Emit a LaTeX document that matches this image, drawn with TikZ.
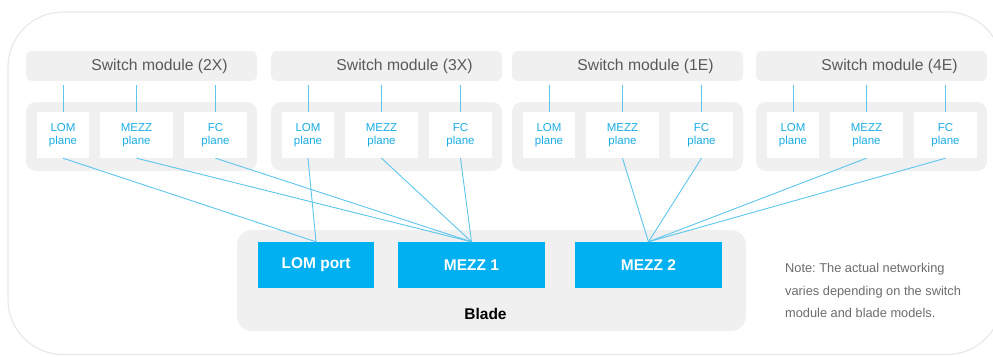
\documentclass[tikz,border=0pt]{standalone}
\usepackage{fontspec}
\setmainfont{Liberation Sans}
\usetikzlibrary{arrows,shapes}
\frenchspacing
\definecolor{panel}{HTML}{F0F0F0}
\definecolor{hwblue}{HTML}{00B0F0}
\definecolor{planeblue}{HTML}{1AAEE6}
\definecolor{wire}{HTML}{5CC6EE}
\definecolor{framegray}{HTML}{E8E8E8}
\definecolor{headgray}{HTML}{595959}
\definecolor{notegray}{HTML}{6B6B6B}
\tikzstyle{header}=[fill=panel,rounded corners=6pt,minimum width=231pt,minimum height=30pt,inner sep=0pt]
\tikzstyle{headtext}=[text=headgray,font=\fontsize{15.7}{18}\selectfont,inner sep=0pt]
\tikzstyle{tray}=[fill=panel,rounded corners=10pt,minimum width=231pt,minimum height=69pt,inner sep=0pt]
\tikzstyle{plane}=[fill=white,minimum height=46pt,inner sep=0pt,align=center,text=planeblue,font=\fontsize{11.5}{13}\selectfont]
\tikzstyle{port}=[fill=hwblue,minimum height=46pt,inner sep=0pt,text=white,font=\fontsize{15.5}{18}\selectfont\bfseries]
\tikzstyle{edge} = [draw=wire,line width=0.9pt,-]

\begin{document}
\begin{tikzpicture}[x=1pt,y=-1pt]
    \clip (0,0) rectangle (993,356);
    % Outer frame
    \draw[framegray,line width=1.2pt,rounded corners=55pt] (8,12) rectangle (1002,354.5);

    % First we draw the switch modules and their planes
    \foreach \x/\name/\tag in {26/a/2X, 271/b/3X, 512/c/1E, 756/d/4E}{
        \node[header] (sw\name) at (\x+115.5,66) {};
        \node[headtext] (swt\name) at ([xshift=18pt]sw\name.center) {Switch module (\tag)};
        \node[tray] (tray\name) at (\x+115.5,136.5) {};
        \node[plane,minimum width=52pt] (lom\name) at (\x+37,135) {LOM\\plane};
        \node[plane,minimum width=73pt] (mezz\name) at (\x+110.5,135) {MEZZ\\plane};
        \node[plane,minimum width=63pt] (fc\name) at (\x+189.5,135) {FC\\plane};
        \foreach \p in {lom,mezz,fc}
            \path[edge,shorten <=4pt] (\p\name.north |- sw\name.south) -- (\p\name.north);
    }

    % Then the blade with its ports
    \node[fill=panel,rounded corners=15pt,minimum width=509pt,minimum height=101pt,inner sep=0pt] (blade) at (491.5,280.5) {};
    \node[font=\fontsize{15.5}{18}\selectfont\bfseries,inner sep=0pt] (bladetext) at (485.5,314) {Blade};
    \foreach \pos/\name/\w/\txt in {{(316,265)/lomport/116pt/LOM port}, {(471.5,265)/mezzone/147pt/MEZZ 1}, {(648.5,265)/mezztwo/147pt/MEZZ 2}}
        \node[port,minimum width=\w] (\name) at \pos {\txt};

    % Connect planes with ports
    \foreach \source/ \dest in {loma/lomport, lomb/lomport, mezza/mezzone, fca/mezzone, mezzb/mezzone, fcb/mezzone, mezzc/mezztwo, fcc/mezztwo, mezzd/mezztwo, fcd/mezztwo}
        \path[edge] (\source.south) -- (\dest.north);

    % Note
    \node[anchor=west,align=left,inner sep=0pt,text=notegray,font=\fontsize{12.8}{22.5}\selectfont] (note) at (785,290.5) {Note: The actual networking\\varies depending on the switch\\module and blade models.};
\end{tikzpicture}
\end{document}
